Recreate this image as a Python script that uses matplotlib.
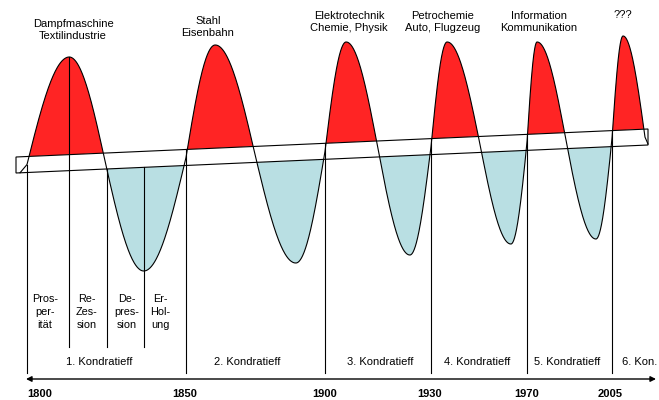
import numpy as np
import matplotlib.pyplot as plt
from matplotlib.patches import Polygon

plt.rcParams['font.family'] = ['Liberation Sans', 'DejaVu Sans']

# Zeitachse schematisch (Einheiten = Bildpunkte entlang der Zeitachse)
cycle_starts = [27, 186, 325, 431, 527, 612]
cycle_crossings = [105, 255, 378, 480, 566, 645]
peak_x = [69, 215, 346, 447, 537, 623]
peak_y = [57, 45, 42, 42, 42, 36]
trough_x = [144, 296, 410, 511, 596]
trough_y = [271, 263, 255, 244, 239]

innovations = ["Dampfmaschine\nTextilindustrie", "Stahl\nEisenbahn",
               "Elektrotechnik\nChemie, Physik", "Petrochemie\nAuto, Flugzeug",
               "Information\nKommunikation", "???"]
innovation_x = [73, 208, 349, 443, 539, 623]
innovation_y = [30, 27, 22, 22, 22, 15]

cycle_names = ["1. Kondratieff", "2. Kondratieff", "3. Kondratieff",
               "4. Kondratieff", "5. Kondratieff", "6. Kon."]
cycle_label_x = [99, 247, 380, 477, 567, 640]

years = ["1800", "1850", "1900", "1930", "1970", "2005"]
year_x = [40, 185, 325, 430, 527, 610]

phases = ["Pros-\nper-\nität", "Re-\nZes-\nsion", "De-\npres-\nsion", "Er-\nHol-\nung"]
phase_x = [45, 87, 127, 160]
phase_lines = [69, 107, 144]

# Band (Trendlinie)
bx0, bx1 = 16, 648
top0, top1 = 157, 129
thick = 16


def band_top(x):
    return top0 + (top1 - top0) * (np.asarray(x, float) - bx0) / (bx1 - bx0)


def band_mid(x):
    return band_top(x) + thick / 2


def band_bot(x):
    return band_top(x) + thick


# Wellenkurve zusammensetzen
xs_all, ys_all = [], []
x = np.linspace(20, cycle_starts[0], 10)
xs_all.append(x)
ys_all.append(np.interp(x, [20, cycle_starts[0]], [band_bot(20), band_mid(cycle_starts[0])]))
for i in range(len(cycle_starts)):
    s, p, c = cycle_starts[i], peak_x[i], cycle_crossings[i]
    H = band_mid(p) - peak_y[i]
    x = np.linspace(s, p, 80)
    xs_all.append(x)
    ys_all.append(band_mid(x) - H * np.sin((x - s) / (p - s) * np.pi / 2))
    x = np.linspace(p, c, 80)
    xs_all.append(x)
    ys_all.append(band_mid(x) - H * np.cos((x - p) / (c - p) * np.pi / 2))
    if i < len(trough_x):
        t, e = trough_x[i], cycle_starts[i + 1]
        D = trough_y[i] - band_mid(t)
        x = np.linspace(c, t, 80)
        xs_all.append(x)
        ys_all.append(band_mid(x) + D * np.sin((x - c) / (t - c) * np.pi / 2))
        x = np.linspace(t, e, 80)
        xs_all.append(x)
        ys_all.append(band_mid(x) + D * np.cos((x - t) / (e - t) * np.pi / 2))
x = np.linspace(cycle_crossings[-1], 648, 10)
xs_all.append(x)
ys_all.append(np.interp(x, [cycle_crossings[-1], 648], [band_mid(cycle_crossings[-1]), band_bot(648) - 1]))
xs = np.concatenate(xs_all)
ys = np.concatenate(ys_all)

fig = plt.figure(figsize=(6.59, 4.0), dpi=100)
ax = fig.add_axes([0, 0, 1, 1])
ax.set_xlim(0, 659)
ax.set_ylim(400, 0)
ax.axis('off')

ax.fill_between(xs, ys, band_top(xs), where=ys < band_top(xs), interpolate=True,
                color='#ff2424', lw=0, zorder=1)
ax.fill_between(xs, ys, band_bot(xs), where=ys > band_bot(xs), interpolate=True,
                color='#b9dfe3', lw=0, zorder=1)

band = Polygon([[bx0, band_top(bx0)], [bx1, band_top(bx1)],
                [bx1, band_bot(bx1)], [bx0, band_bot(bx0)]],
               closed=True, facecolor='white', edgecolor='black', lw=0.8, zorder=2)
ax.add_patch(band)

ax.plot(xs, ys, color='black', lw=0.8, zorder=4)

# Zyklusgrenzen
for i, bx in enumerate(cycle_starts):
    y0 = band_mid(bx) if i == 0 else band_top(bx)
    ax.plot([bx, bx], [y0, 373], color='black', lw=0.8, zorder=3)

# Phasen des ersten Zyklus
ax.plot([peak_x[0], peak_x[0]], [peak_y[0], 347], color='black', lw=0.8, zorder=3)
for px in phase_lines[1:]:
    ax.plot([px, px], [band_bot(px), 347], color='black', lw=0.8, zorder=3)
for lab, px in zip(phases, phase_x):
    ax.text(px, 312, lab, ha='center', va='center', fontsize=7.8, linespacing=1.32)

for lab, px, py in zip(innovations, innovation_x, innovation_y):
    ax.text(px, py, lab, ha='center', va='center', fontsize=8, linespacing=1.25)

for lab, px in zip(cycle_names, cycle_label_x):
    ax.text(px, 362, lab, ha='center', va='center', fontsize=8)

ax.annotate('', xy=(656, 379), xytext=(26, 379),
            arrowprops=dict(arrowstyle='<|-|>', color='black', lw=1.0,
                            mutation_scale=8, shrinkA=0, shrinkB=0))

for lab, px in zip(years, year_x):
    ax.text(px, 394, lab, ha='center', va='center', fontsize=8, fontweight='bold')

fig.savefig('out.png', dpi=100)
